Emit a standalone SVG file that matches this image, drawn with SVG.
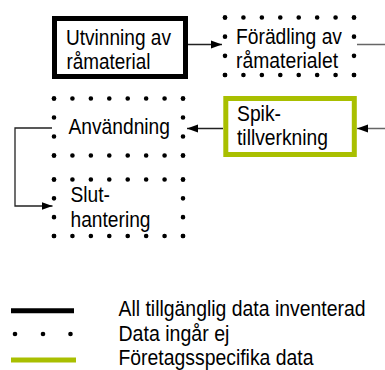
<svg xmlns="http://www.w3.org/2000/svg" width="385" height="370" viewBox="0 0 385 370">
  <style>
    text { font-family: "Liberation Sans Narrow", "Liberation Sans", Arial, sans-serif; font-size: 22px; fill: #000; }
    .solid { fill: #fff; stroke: #000; stroke-width: 5; }
    .green { fill: #fff; stroke: #a9bf00; stroke-width: 5; }
    .dots { fill: none; stroke: #000; stroke-width: 4.6; stroke-linecap: round; }
    .conn { fill: none; stroke: #222; stroke-width: 1.3; }
    .connGray { fill: none; stroke: #666; stroke-width: 1.3; }
  </style>
  <defs>
    <marker id="arrow" markerUnits="userSpaceOnUse" markerWidth="12" markerHeight="10" refX="11" refY="5" orient="auto">
      <path d="M0,1 L11,5 L0,9 Z" fill="#000"/>
    </marker>
  </defs>

  <g id="connectors">
    <path class="conn" d="M188,44.5 H222" marker-end="url(#arrow)"/>
    <path class="connGray" d="M357,44.5 H395 V128.5 H357" marker-end="url(#arrow)"/>
    <path class="conn" d="M223,128.5 H187" marker-end="url(#arrow)"/>
    <path class="conn" d="M52,128 H15 V206 H52.5" marker-end="url(#arrow)"/>
  </g>

  <g id="utvinning">
    <rect class="solid" x="54.5" y="18.5" width="131" height="58"/>
    <text x="66" y="44.5" textLength="105" lengthAdjust="spacingAndGlyphs">Utvinning av</text>
    <text x="66.5" y="69" textLength="84" lengthAdjust="spacingAndGlyphs">råmaterial</text>
  </g>

  <g id="foradling">
    <path class="dots" d="M225,17.5 H354.5" stroke-dasharray="0 18.43"/>
    <path class="dots" d="M225,75 H354.5" stroke-dasharray="0 18.43"/>
    <path class="dots" d="M225,17.5 V75.3" stroke-dasharray="0 19.17"/>
    <path class="dots" d="M354,17.5 V75.3" stroke-dasharray="0 19.17"/>
    <text x="236" y="43.5" textLength="106" lengthAdjust="spacingAndGlyphs">Förädling av</text>
    <text x="236" y="68" textLength="102" lengthAdjust="spacingAndGlyphs">råmaterialet</text>
  </g>

  <g id="spik">
    <rect class="green" x="225.8" y="98.5" width="128.5" height="56"/>
    <text x="237" y="120.5" textLength="44" lengthAdjust="spacingAndGlyphs">Spik-</text>
    <text x="237" y="145" textLength="91" lengthAdjust="spacingAndGlyphs">tillverkning</text>
  </g>

  <g id="anvandning">
    <path class="dots" d="M54,98.5 H183.5" stroke-dasharray="0 18.43"/>
    <path class="dots" d="M54,155.5 H183.5" stroke-dasharray="0 18.43"/>
    <path class="dots" d="M54,98.5 V155.8" stroke-dasharray="0 19"/>
    <path class="dots" d="M183,98.5 V155.8" stroke-dasharray="0 19"/>
    <text x="68.5" y="133.5" textLength="101.5" lengthAdjust="spacingAndGlyphs">Användning</text>
  </g>

  <g id="slut">
    <path class="dots" d="M54,179.5 H183.5" stroke-dasharray="0 18.43"/>
    <path class="dots" d="M54,236 H183.5" stroke-dasharray="0 18.43"/>
    <path class="dots" d="M54,179.5 V236.3" stroke-dasharray="0 18.83"/>
    <path class="dots" d="M183,179.5 V236.3" stroke-dasharray="0 18.83"/>
    <text x="70.5" y="201.5" textLength="39.5" lengthAdjust="spacingAndGlyphs">Slut-</text>
    <text x="70.5" y="226.5" textLength="80" lengthAdjust="spacingAndGlyphs">hantering</text>
  </g>

  <g id="legend">
    <line x1="11" y1="310.7" x2="74" y2="310.7" stroke="#000" stroke-width="5"/>
    <circle cx="15" cy="334" r="2.3"/>
    <circle cx="43" cy="334" r="2.3"/>
    <circle cx="70.5" cy="334" r="2.3"/>
    <line x1="11" y1="360" x2="76" y2="360" stroke="#a9bf00" stroke-width="5"/>
    <g transform="translate(118.5,0) scale(0.88,1)">
      <text x="0" y="316.5" textLength="280.7" lengthAdjust="spacingAndGlyphs">All tillgänglig data inventerad</text>
      <text x="0" y="341.5" textLength="126" lengthAdjust="spacingAndGlyphs">Data ingår ej</text>
      <text x="0" y="365.5" textLength="221.6" lengthAdjust="spacingAndGlyphs">Företagsspecifika data</text>
    </g>
  </g>
</svg>
